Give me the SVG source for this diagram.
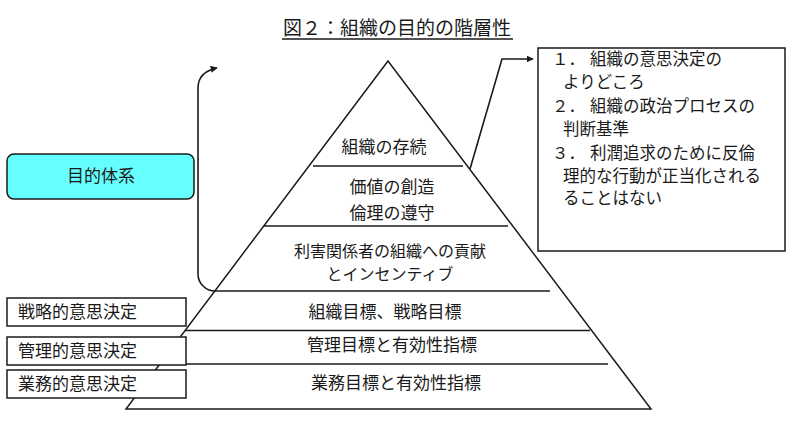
<svg xmlns="http://www.w3.org/2000/svg" width="800" height="424" viewBox="0 0 800 424">
<defs>
<style>
text{font-family:"Noto Sans CJK JP","Noto Sans",sans-serif;fill:#1a1a1a;font-size:17px}
.c{text-anchor:middle}
.s{font-size:16.5px}
.ln{stroke:#1a1a1a;stroke-width:1.5;fill:none}
.box{fill:#fff;stroke:#1a1a1a;stroke-width:1.5}
.conn{stroke:#1a1a1a;stroke-width:1.6;fill:none;marker-end:url(#ah)}
</style>
<marker id="ah" viewBox="0 0 10 10" refX="9" refY="5" markerWidth="7" markerHeight="7" markerUnits="userSpaceOnUse" orient="auto">
<path d="M0,0 L10,5 L0,10 z" fill="#1a1a1a"/>
</marker>
</defs>
<rect width="800" height="424" fill="#fff"/>

<g id="title">
<text x="397" y="35" class="c" style="font-size:19px">図２：組織の目的の階層性</text>
<line x1="282" y1="39" x2="513" y2="39" class="ln" stroke-width="1.4"/>
</g>

<g id="pyramid">
<polygon points="388,61 126,409 651,409" class="ln" stroke-linejoin="miter"/>
<line x1="313" y1="166" x2="463" y2="166" class="ln"/>
<line x1="264" y1="226" x2="508" y2="226" class="ln"/>
<line x1="215" y1="291" x2="550" y2="291" class="ln"/>
<line x1="185" y1="330.5" x2="590" y2="330.5" class="ln"/>
<line x1="160" y1="364" x2="608" y2="364" class="ln"/>
</g>

<g id="layer-survival"><text x="384" y="153" class="c">組織の存続</text></g>
<g id="layer-value"><text x="392" y="193" class="c">価値の創造</text><text x="392" y="219" class="c">倫理の遵守</text></g>
<g id="layer-stakeholder"><text x="390" y="257" class="c" style="font-size:16px">利害関係者の組織への貢献</text><text x="390" y="280" class="c" style="font-size:16px">とインセンティブ</text></g>
<g id="layer-strategic"><text x="385" y="318" class="c">組織目標、戦略目標</text></g>
<g id="layer-management"><text x="392" y="351" class="c">管理目標と有効性指標</text></g>
<g id="layer-operational"><text x="396" y="389" class="c">業務目標と有効性指標</text></g>

<g id="purpose-system">
<rect x="7" y="154" width="187" height="45" rx="7" fill="#66ffff" stroke="#1a1a1a" stroke-width="1.5"/>
<text x="101" y="182" class="c">目的体系</text>
</g>

<g id="strategic-decision">
<rect x="7" y="298" width="179" height="28" class="box"/>
<text x="18" y="318">戦略的意思決定</text>
</g>
<g id="management-decision">
<rect x="7" y="337" width="179" height="28" class="box"/>
<text x="18" y="357">管理的意思決定</text>
</g>
<g id="operational-decision">
<rect x="7" y="370" width="179" height="28" class="box"/>
<text x="18" y="390">業務的意思決定</text>
</g>

<g id="roles-box">
<rect x="538" y="48" width="247" height="203" class="box"/>
<text x="552" y="65" class="s">１．</text><text x="590" y="65" class="s">組織の意思決定の</text>
<text x="563" y="88" class="s">よりどころ</text>
<text x="552" y="112" class="s">２．</text><text x="590" y="112" class="s">組織の政治プロセスの</text>
<text x="563" y="135" class="s">判断基準</text>
<text x="552" y="159" class="s">３．</text><text x="590" y="159" class="s">利潤追求のために反倫</text>
<text x="563" y="182" class="s">理的な行動が正当化される</text>
<text x="563" y="204" class="s">ることはない</text>
</g>

<g id="connectors">
<path d="M215,291 A17,17 0 0 1 198,274 L198,88 Q198,72 217,68" class="conn"/>
<path d="M470,169 L502,59 L533,59" class="conn"/>
</g>
</svg>
